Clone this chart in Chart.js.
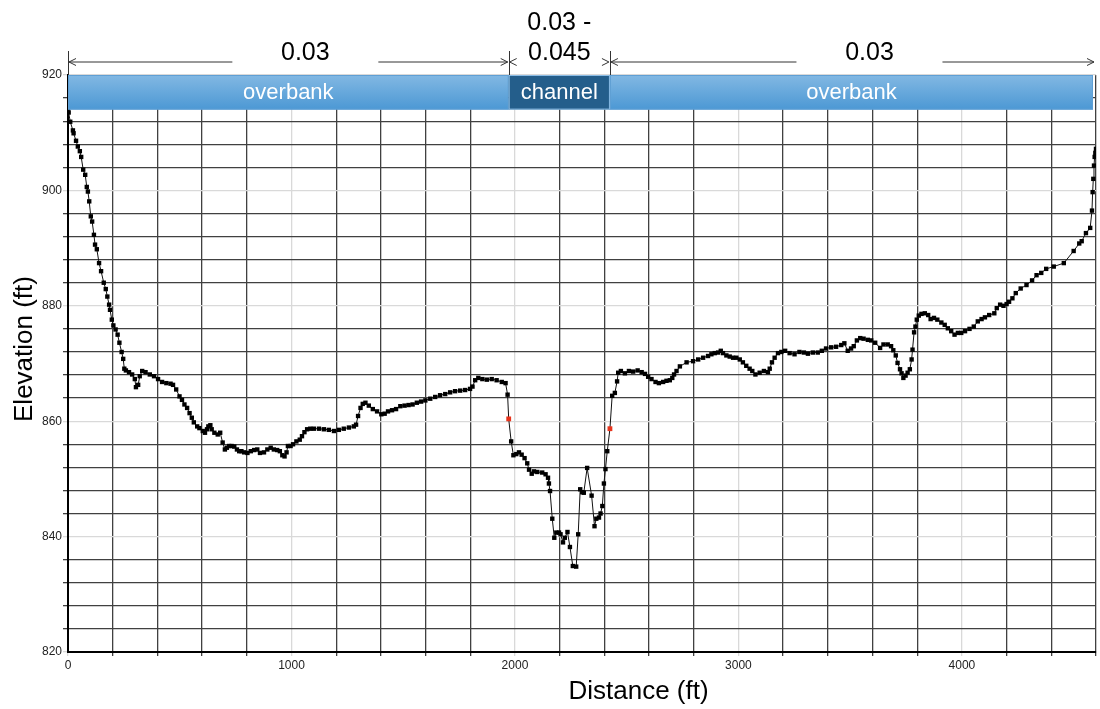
<!DOCTYPE html>
<html>
<head>
<meta charset="utf-8">
<script src="https://cdn.jsdelivr.net/npm/chart.js@4/dist/chart.umd.min.js"></script>
<style>
  html, body { margin: 0; padding: 0; background: #fff; }
</style>
</head>
<body>
<canvas id="profile" width="1100" height="709"></canvas>
<script>
// cross-section stations (ft) and ground elevations (ft)
const stations = [
  0, 3, 10, 22, 25, 36, 44, 53, 59, 68, 77, 84, 89, 95, 102, 108, 116, 121, 129, 139,
  148, 160, 169, 176, 184, 188, 196, 203, 213, 222, 230, 240, 247, 252, 259, 273, 287, 299, 304, 314,
  321, 332, 347, 366, 385, 403, 421, 440, 459, 470, 484, 499, 510, 521, 533, 544, 554, 563, 578, 588,
  603, 613, 622, 628, 637, 643, 655, 670, 681, 692, 702, 711, 721, 732, 744, 756, 766, 776, 788, 803,
  818, 833, 847, 859, 877, 892, 907, 921, 936, 948, 959, 969, 978, 984, 996, 1007, 1022, 1037, 1047, 1058,
  1070, 1084, 1100, 1123, 1145, 1167, 1190, 1212, 1234, 1257, 1279, 1289, 1298, 1309, 1319, 1331, 1346, 1364, 1383, 1402,
  1417, 1432, 1450, 1468, 1487, 1506, 1524, 1542, 1561, 1580, 1599, 1621, 1643, 1665, 1688, 1710, 1732, 1755, 1777, 1799,
  1810, 1822, 1836, 1854, 1874, 1896, 1918, 1941, 1958, 1967, 1972, 1983, 1993, 2006, 2018, 2030, 2043, 2055, 2063, 2075,
  2085, 2100, 2122, 2137, 2148, 2152, 2157, 2167, 2176, 2185, 2197, 2204, 2215, 2223, 2235, 2246, 2259, 2274, 2283, 2292,
  2301, 2308, 2323, 2343, 2356, 2364, 2376, 2383, 2391, 2398, 2405, 2413, 2425, 2435, 2447, 2457, 2462, 2474, 2492, 2510,
  2529, 2549, 2567, 2582, 2596, 2611, 2629, 2644, 2663, 2678, 2693, 2704, 2712, 2723, 2738, 2768, 2797, 2820, 2842, 2864,
  2879, 2894, 2909, 2921, 2931, 2946, 2961, 2976, 2991, 3006, 3020, 3035, 3050, 3062, 3076, 3095, 3114, 3132, 3140, 3150,
  3162, 3177, 3192, 3209, 3229, 3251, 3273, 3293, 3311, 3333, 3355, 3373, 3392, 3415, 3437, 3460, 3474, 3489, 3504, 3516,
  3530, 3545, 3560, 3579, 3594, 3612, 3634, 3649, 3668, 3683, 3693, 3704, 3712, 3723, 3730, 3738, 3748, 3757, 3767, 3775,
  3779, 3786, 3792, 3798, 3807, 3819, 3834, 3849, 3860, 3875, 3890, 3908, 3923, 3937, 3952, 3967, 3982, 3997, 4014, 4034,
  4053, 4071, 4088, 4103, 4122, 4145, 4156, 4171, 4186, 4200, 4211, 4226, 4241, 4263, 4289, 4314, 4334, 4355, 4377, 4411,
  4456, 4500, 4525, 4536, 4555, 4574, 4582, 4585, 4588, 4591, 4594, 4597, 4600
];
const elevations = [
  914.2, 913.5, 911.9, 910.4, 909.9, 908.6, 907.6, 906.8, 905.8, 903.6, 902.7, 900.6, 899.8, 898.1, 895.5, 894.6, 892.3, 890.6, 889.8, 887.4,
  886.0, 884.0, 882.9, 881.6, 880.2, 879.3, 877.6, 876.6, 875.9, 875.0, 873.6, 872.0, 870.8, 869.1, 868.8, 868.5, 868.1, 867.3, 865.9, 866.3,
  867.8, 868.7, 868.5, 868.1, 867.8, 867.3, 866.8, 866.6, 866.5, 866.3, 865.5, 864.3, 863.7, 862.9, 862.3, 861.4, 860.6, 859.8, 859.1, 858.8,
  858.3, 858.0, 858.6, 859.1, 859.3, 858.6, 858.0, 857.7, 858.0, 856.3, 855.1, 855.4, 855.7, 855.7, 855.6, 855.1, 854.8, 854.8, 854.6, 854.5,
  854.8, 855.0, 855.1, 854.5, 854.6, 855.1, 855.4, 855.1, 855.0, 854.8, 854.1, 853.9, 854.6, 855.7, 855.7, 856.0, 856.5, 856.8, 857.4, 858.1,
  858.6, 858.7, 858.7, 858.7, 858.6, 858.5, 858.3, 858.5, 858.7, 858.9, 859.1, 859.4, 860.9, 862.3, 863.0, 863.2, 862.7, 862.1, 861.7, 861.2,
  861.3, 861.7, 861.9, 862.1, 862.6, 862.7, 862.8, 862.9, 863.2, 863.4, 863.6, 863.9, 864.2, 864.5, 864.7, 865.0, 865.2, 865.3, 865.4, 865.6,
  866.0, 867.1, 867.5, 867.3, 867.2, 867.3, 867.1, 866.8, 866.6, 864.6, 860.4, 856.5, 854.1, 854.3, 854.6, 854.2, 853.6, 852.7, 851.6, 850.9,
  851.3, 851.2, 851.1, 850.8, 850.2, 849.2, 847.9, 843.1, 839.8, 840.7, 840.7, 840.4, 839.0, 839.8, 840.8, 838.2, 834.9, 834.8, 840.4, 848.2,
  847.7, 847.6, 851.9, 847.1, 841.8, 843.1, 843.3, 844.0, 845.3, 849.2, 851.7, 854.8, 858.7, 864.4, 864.9, 866.9, 868.4, 868.7, 868.3, 868.7,
  868.6, 868.8, 868.5, 868.2, 867.7, 867.3, 866.8, 866.6, 866.8, 867.0, 867.1, 867.5, 868.1, 868.7, 869.5, 870.2, 870.4, 870.7, 871.0, 871.3,
  871.6, 871.8, 871.9, 872.2, 871.8, 871.4, 871.2, 871.0, 871.0, 870.7, 870.2, 869.6, 869.1, 868.7, 868.1, 868.4, 868.7, 868.5, 869.1, 870.2,
  871.0, 871.8, 872.0, 872.2, 871.8, 871.6, 872.0, 871.9, 871.7, 871.9, 871.9, 872.2, 872.6, 872.8, 872.9, 873.2, 873.5, 872.2, 872.6, 873.0,
  874.0, 874.4, 874.3, 874.1, 874.0, 873.6, 872.7, 873.3, 873.3, 873.0, 872.3, 871.4, 870.1, 869.0, 868.3, 867.5, 867.9, 868.4, 869.0, 870.7,
  872.4, 875.4, 876.4, 877.6, 878.3, 878.6, 878.7, 878.4, 877.7, 877.9, 877.6, 877.1, 876.7, 876.1, 875.6, 875.0, 875.3, 875.3, 875.6, 876.0,
  876.4, 877.3, 877.7, 878.0, 878.4, 878.7, 879.6, 880.2, 880.0, 880.3, 880.7, 881.3, 882.2, 883.0, 883.6, 884.4, 885.3, 885.7, 886.4, 886.8,
  887.4, 889.5, 890.8, 891.2, 892.6, 893.5, 896.5, 899.7, 902.0, 904.3, 905.8, 906.5, 907.2
];
// left and right bank stations (red points, channel limits)
const bankStations = [1972, 2425];
const zoneNames = ['overbank', 'channel', 'overbank'];
const manningN = [['0.03'], ['0.03 -', '0.045'], ['0.03']];
const xLabelTicks = [0, 1000, 2000, 3000, 4000];
const yLabelTicks = [820, 840, 860, 880, 900, 920];

const FONT = '"Liberation Sans", Arial, sans-serif';

function arrowHead(ctx, x, y, dir) {
  ctx.beginPath();
  ctx.moveTo(x + dir * 7, y - 3.5);
  ctx.lineTo(x, y);
  ctx.lineTo(x + dir * 7, y + 3.5);
  ctx.stroke();
}

const overlay = {
  id: 'overlay',
  afterDatasetsDraw(chart) {
    const { ctx, chartArea: a, scales: { x, y } } = chart;
    const top = y.getPixelForValue(920);
    const bot = y.getPixelForValue(914);
    const edges = [a.left, x.getPixelForValue(bankStations[0]), x.getPixelForValue(bankStations[1]), a.right - 3];
    ctx.save();

    // zone band
    const grad = ctx.createLinearGradient(0, top, 0, bot);
    grad.addColorStop(0, '#82b8e3');
    grad.addColorStop(1, '#4c98d4');
    ctx.font = '22px ' + FONT;
    ctx.textAlign = 'center';
    ctx.textBaseline = 'middle';
    for (let i = 0; i < 3; i++) {
      const l = edges[i], r = edges[i + 1];
      ctx.fillStyle = i === 1 ? '#245e8b' : grad;
      ctx.fillRect(l, top, r - l, bot - top);
      ctx.strokeStyle = i === 1 ? '#8cbde6' : '#5f9fd4';
      ctx.lineWidth = 1;
      ctx.strokeRect(l + 0.5, top + 0.5, r - l - 1, bot - top - 1);
      ctx.fillStyle = '#fff';
      ctx.fillText(zoneNames[i], (l + r) / 2, (top + bot) / 2 + 1);
    }

    // dimension lines with Manning's n
    const dimY = top - 13;
    ctx.strokeStyle = '#333';
    ctx.fillStyle = '#000';
    ctx.lineWidth = 1;
    [edges[0], edges[1], edges[2]].forEach(px => {
      ctx.beginPath();
      ctx.moveTo(Math.round(px) + 0.5, top - 24);
      ctx.lineTo(Math.round(px) + 0.5, top);
      ctx.stroke();
    });
    const segs = [[a.left, edges[1]], [edges[1], edges[2]], [edges[2], a.right - 1]];
    ctx.font = '25px ' + FONT;
    segs.forEach(([l, r], i) => {
      arrowHead(ctx, l + 1, dimY, 1);
      arrowHead(ctx, r - 1, dimY, -1);
      const lines = manningN[i];
      if (lines.length === 1) {
        const cx = (l + r) / 2 + 17;
        ctx.beginPath();
        ctx.moveTo(l + 1, dimY); ctx.lineTo(cx - 73, dimY);
        ctx.moveTo(cx + 73, dimY); ctx.lineTo(r - 1, dimY);
        ctx.stroke();
        ctx.fillText(lines[0], cx, dimY - 9);
      } else {
        lines.forEach((t, k) => ctx.fillText(t, (l + r) / 2, dimY - 39 + k * 30));
      }
    });

    // axis titles
    ctx.font = '26px ' + FONT;
    ctx.fillStyle = '#000';
    ctx.fillText('Distance (ft)', a.left + 0.555 * (a.right - a.left), 692);
    ctx.translate(25, 349);
    ctx.rotate(-Math.PI / 2);
    ctx.fillText('Elevation (ft)', 0, 0);
    ctx.restore();
  }
};

const points = stations.map((s, i) => ({ x: s, y: elevations[i] }));
const isBank = c => c.raw && bankStations.includes(c.raw.x);

new Chart(document.getElementById('profile'), {
  type: 'line',
  data: {
    datasets: [{
      data: points,
      borderColor: '#111',
      borderWidth: 1,
      tension: 0,
      pointStyle: 'rect',
      pointRadius: c => isBank(c) ? 3.4 : 3.1,
      pointBackgroundColor: c => isBank(c) ? '#e8341c' : '#000',
      pointBorderWidth: 0
    }]
  },
  options: {
    responsive: false,
    animation: false,
    devicePixelRatio: 1,
    layout: { padding: { top: 75, right: 2, left: 0, bottom: 0 } },
    plugins: { legend: { display: false }, tooltip: { enabled: false } },
    scales: {
      x: {
        type: 'linear',
        min: 0,
        max: 4600,
        afterFit: s => { s.height = 57; },
        ticks: {
          stepSize: 200,
          autoSkip: false,
          maxRotation: 0,
          padding: 2,
          color: '#222',
          font: { family: FONT, size: 12 },
          callback: v => xLabelTicks.includes(v) ? String(v) : ''
        },
        grid: {
          color: c => c.tick && c.tick.value % 1000 === 0 ? '#d9d9d9' : '#404040',
          lineWidth: 1.3,
          tickLength: 4
        },
        border: { color: '#000', width: 2 }
      },
      y: {
        min: 820,
        max: 920,
        afterFit: s => { s.width = 68; },
        ticks: {
          stepSize: 4,
          autoSkip: false,
          padding: 1,
          color: '#222',
          font: { family: FONT, size: 12 },
          callback: v => yLabelTicks.includes(v) ? String(v) : ''
        },
        grid: {
          color: c => c.tick && c.tick.value % 20 === 0 ? '#d9d9d9' : '#404040',
          lineWidth: 1.3,
          tickLength: 5
        },
        border: { color: '#000', width: 2 }
      }
    }
  },
  plugins: [overlay]
});
</script>
</body>
</html>
